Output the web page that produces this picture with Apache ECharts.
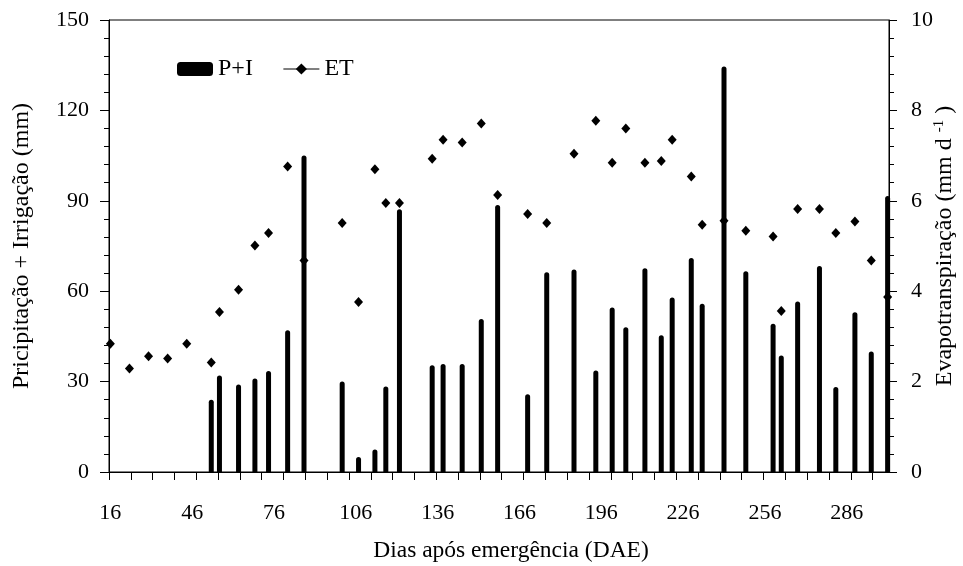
<!DOCTYPE html>
<html>
<head>
    <meta charset="utf-8">
    <title>P+I e ET</title>
    <script src="https://cdn.jsdelivr.net/npm/echarts@6/dist/echarts.min.js"></script>
    <style>
        html, body { margin: 0; padding: 0; background: #fff; }
    </style>
</head>
<body>
    <div id="chart" style="width:963px; height:566px"></div>

    <script>
        // dias das lâminas (P+I) e valores em mm
        const piDays = [53, 56, 63, 69, 74, 81, 87, 101, 107, 113, 117, 122, 134, 138, 145, 152, 158,
            169, 176, 186, 194, 200, 205, 212, 218, 222, 229, 233, 241, 249, 259, 262, 268, 276,
            282, 289, 295, 301];
        const piValues = [24, 32, 29, 31, 33.5, 47, 105, 30, 5, 7.5, 28.4, 87.2, 35.4, 35.8, 35.8, 50.8, 88.6,
            25.8, 66.3, 67.2, 33.7, 54.6, 48, 67.6, 45.4, 57.9, 71, 55.8, 134.6, 66.6, 49.2, 38.7, 56.6, 68.4,
            28.2, 53, 40, 91.6];

        // evapotranspiração (mm d-1)
        const etDays = [16, 23, 30, 37, 44, 53, 56, 63, 69, 74, 81, 87, 101, 107, 113, 117, 122, 134,
            138, 145, 152, 158, 169, 176, 186, 194, 200, 205, 212, 218, 222, 229, 233, 241, 249,
            259, 262, 268, 276, 282, 289, 295, 301];
        const etValues = [2.84, 2.29, 2.56, 2.51, 2.84, 2.42, 3.54, 4.03, 5.01, 5.29, 6.76, 4.68, 5.51, 3.76,
            6.70, 5.95, 5.95, 6.93, 7.35, 7.29, 7.71, 6.13, 5.71, 5.51, 7.04, 7.77, 6.84, 7.60, 6.84,
            6.88, 7.35, 6.54, 5.47, 5.56, 5.34, 5.21, 3.56, 5.82, 5.82, 5.29, 5.54, 4.68, 3.87];

        const xLabels = [16, 46, 76, 106, 136, 166, 196, 226, 256, 286];
        const xTicks = [15.5, 23.5, 31.5, 39.5, 47.5, 55.5, 63.5, 71.5, 79.5, 87.5, 95.5, 103.5, 111.5,
            119.5, 127.5, 135.5, 143.5, 151.5, 159.5, 167.5, 175.5, 183.5, 191.5, 199.5, 207.5, 215.5,
            223.5, 231.5, 239.5, 247.5, 255.5, 263.5, 271.5, 279.5, 287.5, 295.5];

        const font = 'Liberation Serif, Times New Roman, serif';
        let chart = echarts.init(document.getElementById('chart'));

        let option = {
            animation: false,
            textStyle: { fontFamily: font, color: '#000' },
            grid: {
                left: 109, right: 74, top: 20, bottom: 94,
                containLabel: false, outerBoundsMode: 'none',
                show: true, borderColor: '#000', borderWidth: 1
            },
            legend: {
                left: 172, top: 52,
                itemWidth: 36, itemHeight: 14, itemGap: 30,
                textStyle: { fontFamily: font, fontSize: 24, color: '#000' },
                lineStyle: { opacity: 1, width: 1, color: '#000' },
                data: [
                    { name: 'P+I', icon: 'roundRect' },
                    { name: 'ET' }
                ]
            },
            xAxis: {
                type: 'value',
                min: 15.5, max: 301.5,
                name: 'Dias após emergência (DAE)',
                nameLocation: 'middle', nameGap: 67, nameMoveOverlap: false,
                nameTextStyle: { fontFamily: font, fontSize: 23.5, color: '#000', padding: [0, 0, 0, 24] },
                axisLine: { lineStyle: { color: '#000', width: 1 } },
                axisTick: { show: true, length: 8, customValues: xTicks, lineStyle: { color: '#000' } },
                axisLabel: { customValues: xLabels, margin: 30, fontFamily: font, fontSize: 22, color: '#000' },
                splitLine: { show: false }
            },
            yAxis: [
                {
                    type: 'value', min: 0, max: 150, interval: 30,
                    name: 'Pricipitação + Irrigação (mm)',
                    nameLocation: 'middle', nameGap: 75, nameRotate: 90, nameMoveOverlap: false,
                    nameTextStyle: { fontFamily: font, fontSize: 24, color: '#000' },
                    axisLine: { show: true, lineStyle: { color: '#000', width: 1 } },
                    axisTick: { show: true, length: 9, lineStyle: { color: '#000' } },
                    minorTick: { show: true, splitNumber: 5, length: 5, lineStyle: { color: '#000' } },
                    axisLabel: { margin: 20, fontFamily: font, fontSize: 22, color: '#000' },
                    splitLine: { show: false }
                },
                {
                    type: 'value', min: 0, max: 10, interval: 2,
                    name: 'Evapotranspiração (mm d {sup|-1} )',
                    nameLocation: 'middle', nameGap: 43, nameRotate: 90, nameMoveOverlap: false,
                    nameTextStyle: {
                        fontFamily: font, fontSize: 24, color: '#000',
                        rich: { sup: { fontFamily: font, fontSize: 15, color: '#000', verticalAlign: 'top', padding: [0, 0, 10, 0] } }
                    },
                    axisLine: { show: true, lineStyle: { color: '#000', width: 1 } },
                    axisTick: { show: true, length: 8, lineStyle: { color: '#000' } },
                    minorTick: { show: true, splitNumber: 5, length: 5, lineStyle: { color: '#000' } },
                    axisLabel: { margin: 22, fontFamily: font, fontSize: 22, color: '#000' },
                    splitLine: { show: false }
                }
            ],
            series: [
                {
                    name: 'P+I',
                    type: 'bar',
                    yAxisIndex: 0,
                    barWidth: 5,
                    itemStyle: { color: '#000', borderRadius: [2.5, 2.5, 0, 0] },
                    data: piDays.map((d, i) => [d, piValues[i]])
                },
                {
                    name: 'ET',
                    type: 'line',
                    yAxisIndex: 1,
                    symbol: 'diamond',
                    symbolSize: [9, 10],
                    showAllSymbol: true,
                    itemStyle: { color: '#000' },
                    lineStyle: { opacity: 0, color: '#000' },
                    z: 3,
                    data: etDays.map((d, i) => [d, etValues[i]])
                }
            ]
        };

        chart.setOption(option);
    </script>
</body>
</html>
